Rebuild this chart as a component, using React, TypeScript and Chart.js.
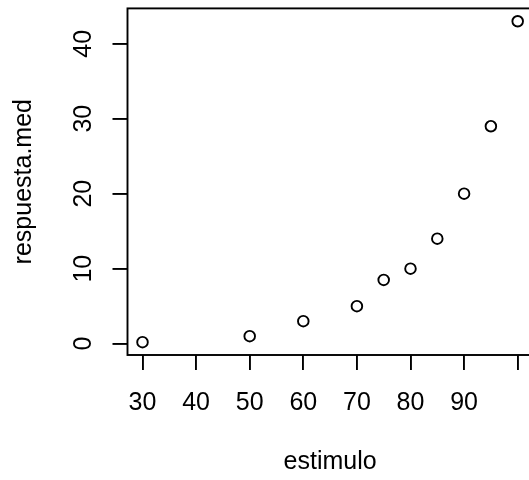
import React, { useEffect, useRef } from "react";
import { Chart, registerables } from "chart.js";

Chart.register(...registerables);

// Observed mean response for each stimulus level
const estimulo = [30, 50, 60, 70, 75, 80, 85, 90, 95, 100];
const respuestaMed = [0.2, 1, 3, 5, 8.5, 10, 14, 20, 29, 43];

// Axis ticks and their labels (the label at 100 falls off the page)
const xTicks = [30, 40, 50, 60, 70, 80, 90, 100];
const xTickLabels = ["30", "40", "50", "60", "70", "80", "90", ""];
const yTicks = [0, 10, 20, 30, 40];
const yTickLabels = ["0", "10", "20", "30", "40"];

const xTitle = "estimulo";
const yTitle = "respuesta.med";

const FONT = '"Liberation Sans", Arial, Helvetica, sans-serif';
const INK = "#000000";
const LINE = 1.9;

// Axis limits padded by 4% of the data range on each side
function paddedRange(v: number[]): [number, number] {
  const lo = Math.min(...v);
  const hi = Math.max(...v);
  const d = (hi - lo) * 0.04;
  return [lo - d, hi + d];
}

// Full box around the plotting region
const plotBox = {
  id: "plotBox",
  afterDraw(chart: Chart) {
    const { ctx, chartArea } = chart;
    ctx.save();
    ctx.strokeStyle = INK;
    ctx.lineWidth = LINE;
    ctx.strokeRect(
      chartArea.left,
      chartArea.top,
      chartArea.right - chartArea.left,
      chartArea.bottom - chartArea.top
    );
    ctx.restore();
  },
};

export default function App() {
  const canvasRef = useRef<HTMLCanvasElement | null>(null);

  useEffect(() => {
    const canvas = canvasRef.current;
    if (!canvas) return;
    const [xMin, xMax] = paddedRange(estimulo);
    const [yMin, yMax] = paddedRange(respuestaMed);

    const chart = new Chart(canvas, {
      type: "scatter",
      data: {
        datasets: [
          {
            data: estimulo.map((x, i) => ({ x, y: respuestaMed[i] })),
            pointStyle: "circle",
            pointRadius: 5.3,
            pointHoverRadius: 5.3,
            borderWidth: 1.9,
            borderColor: INK,
            backgroundColor: "rgba(0,0,0,0)",
          },
        ],
      },
      options: {
        responsive: false,
        animation: false,
        devicePixelRatio: 1,
        events: [],
        layout: { padding: { top: 8.4, right: 27.3, bottom: 0, left: 0 } },
        plugins: {
          legend: { display: false },
          tooltip: { enabled: false },
        },
        scales: {
          x: {
            type: "linear",
            min: xMin,
            max: xMax,
            afterBuildTicks: (s: any) => {
              s.ticks = xTicks.map((value) => ({ value }));
            },
            afterFit: (s: any) => {
              s.height = 125;
              s.paddingLeft = 0;
              s.paddingRight = 0;
            },
            ticks: {
              autoSkip: false,
              minRotation: 0,
              maxRotation: 0,
              padding: 18,
              color: INK,
              font: { family: FONT, size: 25 },
              callback: (v: any) => xTickLabels[xTicks.indexOf(Number(v))] ?? "",
            },
            grid: {
              drawOnChartArea: false,
              drawTicks: true,
              tickLength: 15,
              color: INK,
              lineWidth: LINE,
            },
            border: { display: false },
            title: {
              display: true,
              text: xTitle,
              color: INK,
              font: { family: FONT, size: 25 },
              padding: { top: 0, bottom: 2.75 },
            },
          },
          y: {
            type: "linear",
            min: yMin,
            max: yMax,
            afterBuildTicks: (s: any) => {
              s.ticks = yTicks.map((value) => ({ value }));
            },
            afterFit: (s: any) => {
              s.width = 127.5;
              s.paddingTop = 0;
              s.paddingBottom = 0;
            },
            ticks: {
              autoSkip: false,
              minRotation: 90,
              maxRotation: 90,
              crossAlign: "center",
              padding: 14.6,
              color: INK,
              font: { family: FONT, size: 25 },
              callback: (v: any) => yTickLabels[yTicks.indexOf(Number(v))] ?? "",
            },
            grid: {
              drawOnChartArea: false,
              drawTicks: true,
              tickLength: 15,
              color: INK,
              lineWidth: LINE,
            },
            border: { display: false },
            title: {
              display: true,
              text: yTitle,
              color: INK,
              font: { family: FONT, size: 25 },
              padding: { top: 8.75, bottom: 0 },
            },
          },
        },
      },
      plugins: [plotBox],
    });

    return () => chart.destroy();
  }, []);

  return (
    <div
      style={{
        position: "fixed",
        left: 0,
        top: 0,
        width: 529,
        height: 480,
        overflow: "hidden",
        background: "#ffffff",
      }}
    >
      <canvas
        ref={canvasRef}
        width={560}
        height={480}
        style={{ display: "block", width: 560, height: 480 }}
      />
    </div>
  );
}
